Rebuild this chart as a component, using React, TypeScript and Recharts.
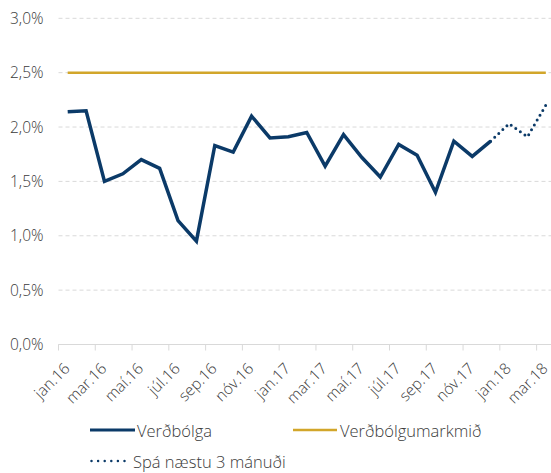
import React from 'react';
import { LineChart, Line, XAxis, YAxis, CartesianGrid } from 'recharts';

const months = [
  'jan.16', 'feb.16', 'mar.16', 'apr.16', 'maí.16', 'jún.16', 'júl.16', 'ágú.16', 'sep.16', 'okt.16', 'nóv.16', 'des.16',
  'jan.17', 'feb.17', 'mar.17', 'apr.17', 'maí.17', 'jún.17', 'júl.17', 'ágú.17', 'sep.17', 'okt.17', 'nóv.17', 'des.17',
  'jan.18', 'feb.18', 'mar.18',
];

// Verðbólga (12 mánaða), %
const inflation = [
  2.14, 2.15, 1.5, 1.57, 1.7, 1.62, 1.14, 0.95, 1.83, 1.77, 2.1, 1.9,
  1.91, 1.95, 1.64, 1.93, 1.72, 1.54, 1.84, 1.74, 1.4, 1.87, 1.73, 1.87,
];

// Spá næstu 3 mánuði (byrjar í síðasta mældum punkti)
const forecast = [1.87, 2.03, 1.91, 2.2];

const inflationTarget = 2.5;

const yTicks = [0, 0.5, 1, 1.5, 2, 2.5, 3];

const chartData = months.map((m, i) => ({
  month: m,
  inflation: i < inflation.length ? inflation[i] : null,
  target: inflationTarget,
  forecast: i >= inflation.length - 1 ? forecast[i - (inflation.length - 1)] : null,
}));

const NAVY = '#0b3a68';
const GOLD = '#d2a62a';
const TEXT = '#3a3a3a';
const GRID = '#d9d9d9';

const CHART_W = 555;
const CHART_H = 473;
const Y_AXIS_W = 58.5;
const HALF_BAND = (CHART_W - Y_AXIS_W) / months.length / 2;

const fmtPct = (v: number) => v.toFixed(1).replace('.', ',') + '%';

const MonthTick = (props: any) => {
  const { x, y, payload } = props;
  const tx = x + 3;
  const ty = y + 25;
  return (
    <g>
      <line x1={x - HALF_BAND} y1={y} x2={x - HALF_BAND} y2={y + 6} stroke={GRID} />
      <text
        x={tx}
        y={ty}
        textAnchor="end"
        fill={TEXT}
        fontSize={15.5}
        fontWeight={300}
        transform={`rotate(-45 ${tx} ${ty})`}
      >
        {payload.value}
      </text>
    </g>
  );
};

const LegendItem = ({ left, top, kind, label }: { left: number; top: number; kind: 'solid' | 'gold' | 'dots'; label: string }) => (
  <div style={{ position: 'absolute', left, top, display: 'flex', alignItems: 'center', height: 20 }}>
    <svg width={kind === 'dots' ? 43 : 47} height={8}>
      {kind === 'solid' && <line x1={0} y1={4} x2={45} y2={4} stroke={NAVY} strokeWidth={3} />}
      {kind === 'gold' && <line x1={0} y1={4} x2={44} y2={4} stroke={GOLD} strokeWidth={2.5} />}
      {kind === 'dots' && (
        <line x1={1.5} y1={4} x2={36} y2={4} stroke={NAVY} strokeWidth={2.5} strokeDasharray="0 6.6" strokeLinecap="round" />
      )}
    </svg>
    <span style={{ fontSize: 16.5, fontWeight: 300, color: TEXT, whiteSpace: 'nowrap' }}>{label}</span>
  </div>
);

export default function App() {
  return (
    <div
      style={{
        position: 'absolute',
        left: 0,
        top: 0,
        width: 551,
        height: 473,
        overflow: 'hidden',
        background: '#fff',
        fontFamily: '"Open Sans", sans-serif',
      }}
    >
      <LineChart width={CHART_W} height={CHART_H} data={chartData} margin={{ top: 18.3, right: 0, bottom: 0, left: 0 }}>
        <CartesianGrid vertical={false} stroke={GRID} strokeDasharray="4 3" />
        <XAxis
          dataKey="month"
          scale="band"
          interval={1}
          height={128.5}
          tickSize={0}
          tickMargin={0}
          tickLine={false}
          axisLine={{ stroke: GRID }}
          tick={<MonthTick />}
        />
        <YAxis
          width={Y_AXIS_W}
          domain={[0, 3]}
          ticks={yTicks}
          tickFormatter={fmtPct}
          axisLine={false}
          tickLine={false}
          tickSize={0}
          tickMargin={15}
          tick={{ fill: TEXT, fontSize: 15.5, fontWeight: 300 }}
        />
        <Line
          dataKey="target"
          stroke={GOLD}
          strokeWidth={2.5}
          dot={false}
          activeDot={false}
          isAnimationActive={false}
        />
        <Line
          dataKey="inflation"
          stroke={NAVY}
          strokeWidth={3.5}
          dot={false}
          activeDot={false}
          isAnimationActive={false}
        />
        <Line
          dataKey="forecast"
          stroke={NAVY}
          strokeWidth={3}
          strokeDasharray="0 5.6"
          strokeLinecap="round"
          dot={false}
          activeDot={false}
          isAnimationActive={false}
        />
      </LineChart>
      <LegendItem left={90} top={420} kind="solid" label="Verðbólga" />
      <LegendItem left={293} top={420} kind="gold" label="Verðbólgumarkmið" />
      <LegendItem left={90} top={451} kind="dots" label="Spá næstu 3 mánuði" />
    </div>
  );
}
